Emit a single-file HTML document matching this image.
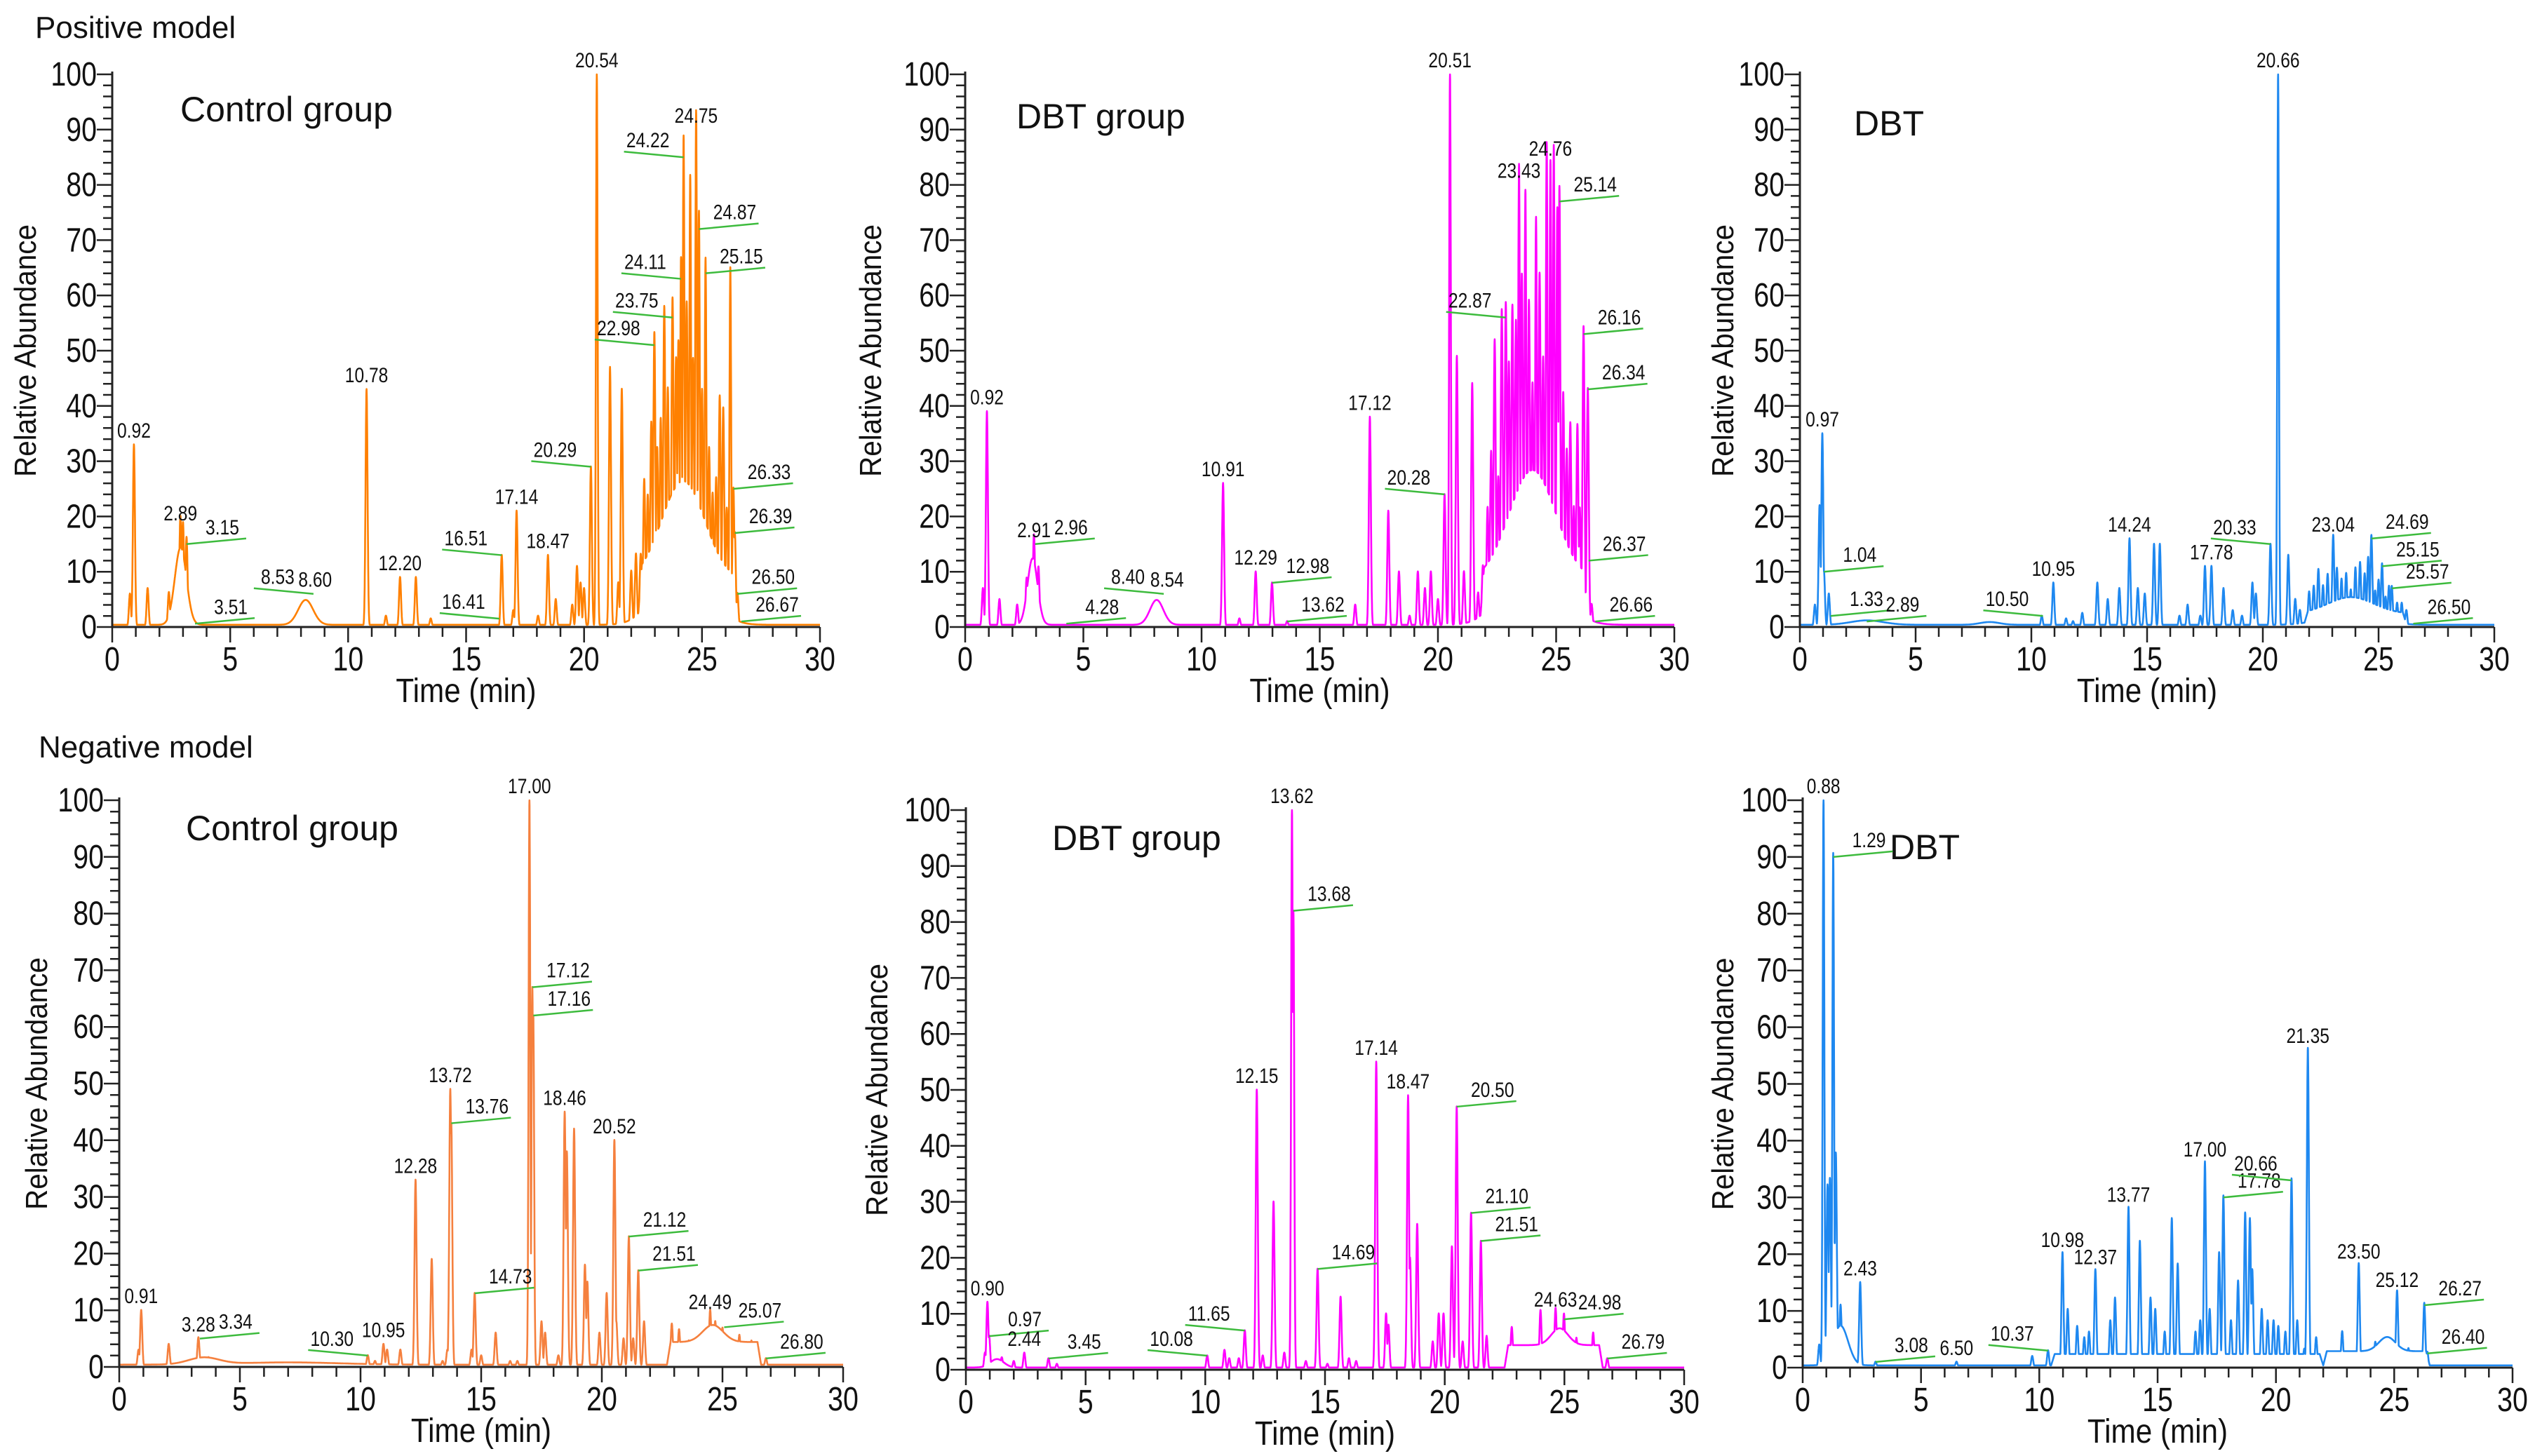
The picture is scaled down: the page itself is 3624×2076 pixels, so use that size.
<!DOCTYPE html>
<html><head><meta charset="utf-8"><title>Chromatograms</title>
<style>html,body{margin:0;padding:0;background:#fff}svg{display:block}text{font-family:"Liberation Sans",sans-serif;fill:#111}</style>
</head><body>
<svg id="fig" xmlns="http://www.w3.org/2000/svg" width="3624" height="2076" viewBox="0 0 3624 2076">
<rect x="0" y="0" width="3624" height="2076" fill="#fff"/>
<text x="50" y="54" font-size="44">Positive model</text>
<text x="55" y="1080" font-size="44">Negative model</text>
</svg>
<script>
// ---- data (time in min, relative abundance %) ----
const posControlPeaks=[[0.75,6],[0.92,33],[1.5,7],[2.4,6],[2.6,5],[2.89,18],[3.0,17],[3.15,15],[10.78,43],[11.6,2],[12.20,9],[12.87,9],[13.5,1.5],[16.51,13],[17.0,3],[17.14,21],[18.05,2],[18.47,13],[18.8,5],[19.5,4],[19.7,11],[19.85,8],[20.0,7],[20.29,29],[20.54,100],[21.1,47],[21.45,8],[21.6,43],[22.0,10],[22.2,13],[22.4,12],[22.55,25],[22.7,22],[22.85,35],[22.98,51],[23.1,30],[23.25,35],[23.4,55],[23.55,40],[23.75,56],[23.9,45],[24.0,48],[24.11,63],[24.22,85],[24.35,55],[24.5,78],[24.62,45],[24.75,90],[24.87,72],[25.0,40],[25.15,64],[25.3,30],[25.45,22],[25.6,25],[25.75,40],[25.9,38],[26.05,20],[26.2,64],[26.33,25],[26.39,17],[26.5,6]];
const posControlHumps=[[2.9,14,0.35],[8.2,4.5,0.45],[24.2,18,1.3]];
const posControlPlateaus=[[22.3,26.3,8]];
const posControlLabels=[[0.92,33,0],[2.89,18,0],[3.15,15,1],[3.51,0.6,1],[8.53,6,-1],[8.60,6,0],[10.78,43,0],[12.20,9,0],[16.41,1.5,-1],[16.51,13,-1],[17.14,21,0],[18.47,13,0],[20.29,29,-1],[20.54,100,0],[22.98,51,-1],[23.75,56,-1],[24.11,63,-1],[24.22,85,-1],[24.75,90,0],[24.87,72,1],[25.15,64,1],[26.33,25,1],[26.39,17,1],[26.50,6,1],[26.67,1,1]];

const posDbtGroupPeaks=[[0.75,7],[0.92,39],[1.45,5],[2.2,4],[2.6,8],[2.91,15],[3.1,10],[10.91,26],[11.6,1.5],[12.29,10],[12.98,8],[13.62,1],[16.5,4],[17.12,38],[17.9,21],[18.35,10],[18.8,2],[19.15,10],[19.45,7],[19.7,10],[20.0,5],[20.28,24],[20.51,100],[20.8,49],[21.1,10],[21.45,44],[21.7,6],[21.9,10],[22.1,20],[22.25,30],[22.4,50],[22.55,25],[22.7,55],[22.87,56],[23.0,45],[23.15,55],[23.3,52],[23.43,80],[23.55,60],[23.7,75],[23.85,55],[24.0,40],[24.15,70],[24.3,60],[24.45,45],[24.6,84],[24.76,81],[24.9,84],[25.05,73],[25.14,77],[25.3,40],[25.45,30],[25.6,35],[25.75,20],[25.9,35],[26.0,20],[26.16,53],[26.34,43],[26.37,12],[26.5,4]];
const posDbtGroupHumps=[[2.85,12,0.3],[8.1,4.5,0.4],[24.0,20,1.4]];
const posDbtGroupPlateaus=[[21.8,26.3,8]];
const posDbtGroupLabels=[[0.92,39,0],[2.91,15,0],[2.96,15,1],[4.28,0.6,1],[8.40,6,-1],[8.54,6,0],[10.91,26,0],[12.29,10,0],[12.98,8,1],[13.62,1,1],[17.12,38,0],[20.28,24,-1],[20.51,100,0],[22.87,56,-1],[23.43,80,0],[24.76,84,0],[25.14,77,1],[26.16,53,1],[26.34,43,1],[26.37,12,1],[26.66,1,1]];

const posDbtPeaks=[[0.65,4],[0.85,22],[0.97,35],[1.04,10],[1.25,6],[10.45,2],[10.95,8],[11.5,1.5],[11.8,1],[12.2,2.5],[12.85,8],[13.3,5],[13.8,7],[14.24,16],[14.6,7],[14.9,6],[15.3,15],[15.55,15],[16.4,2],[16.75,4],[17.3,2],[17.5,11],[17.78,11],[18.3,7],[18.7,3],[19.1,2],[19.55,8],[19.7,6],[20.33,15],[20.66,100],[21.1,13],[21.4,5],[21.6,3],[22.0,6],[22.2,7],[22.4,10],[22.6,7],[22.8,9],[23.04,16],[23.2,10],[23.4,8],[23.6,9],[23.8,6],[24.0,10],[24.2,11],[24.4,9],[24.55,12],[24.69,16],[24.85,6],[25.0,8],[25.15,11],[25.3,5],[25.45,7],[25.57,7],[25.8,4],[26.0,4],[26.2,3]];
const posDbtHumps=[[2.9,0.8,1.0],[8.2,0.5,0.6],[23.8,3,1.4]];
const posDbtPlateaus=[[21.8,26.2,2]];
const posDbtLabels=[[0.97,35,0],[1.04,10,1],[1.33,2,1],[2.89,1,1],[10.50,2,-1],[10.95,8,0],[14.24,16,0],[17.78,11,0],[20.33,15,-1],[20.66,100,0],[23.04,16,0],[24.69,16,1],[25.15,11,1],[25.57,7,1],[26.50,0.6,1]];

const negControlPeaks=[[0.8,3],[0.91,10],[2.05,4],[3.28,5],[3.7,1.5],[10.3,2],[10.6,1],[10.95,4],[11.1,3],[11.65,3],[12.28,33],[12.95,19],[13.4,1],[13.6,3],[13.72,49],[13.76,43],[14.6,3],[14.73,13],[15.0,2],[15.6,6],[16.2,1],[16.5,1],[17.00,100],[17.12,67],[17.16,62],[17.5,8],[17.65,6],[18.2,2],[18.46,45],[18.55,38],[18.85,42],[19.3,18],[19.4,15],[19.9,6],[20.2,13],[20.52,40],[20.6,8],[20.9,5],[21.12,23],[21.3,5],[21.51,17],[21.75,8],[22.9,7],[23.2,6],[23.6,4],[24.49,9],[24.7,7],[25.0,6],[25.3,4],[25.7,5],[26.2,4],[26.80,1.5]];
const negControlHumps=[[3.5,1.2,0.9],[7,0.4,3],[24.6,3,0.6]];
const negControlPlateaus=[[22.7,26.6,4]];
const negControlLabels=[[0.91,10,0],[3.28,5,0],[3.34,5,1],[10.30,2,-1],[10.95,4,0],[12.28,33,0],[13.72,49,0],[13.76,43,1],[14.73,13,1],[17.00,100,0],[17.12,67,1],[17.16,62,1],[18.46,45,0],[20.52,40,0],[21.12,23,1],[21.51,17,1],[24.49,9,0],[25.07,7,1],[26.80,1.5,1]];

const negDbtGroupPeaks=[[0.8,3],[0.90,12],[0.97,6],[1.5,2],[2.0,1.5],[2.44,3],[3.45,2],[3.8,1],[10.08,2.5],[10.8,3.5],[11.0,2],[11.4,2],[11.65,7],[12.15,50],[12.4,2.5],[12.85,30],[13.3,3],[13.62,100],[13.68,82],[14.2,1.5],[14.69,18],[15.1,1],[15.65,13],[16.0,2],[16.3,1.5],[17.14,55],[17.55,10],[17.65,8],[18.47,49],[18.55,20],[18.85,26],[19.5,5],[19.75,10],[19.95,10],[20.3,22],[20.50,47],[20.75,5],[21.10,28],[21.51,23],[21.75,6],[22.8,7],[24.0,10],[24.63,10],[24.98,9],[25.5,5],[26.2,6],[26.79,2]];
const negDbtGroupHumps=[[1.3,1.5,0.4],[24.8,3,0.5]];
const negDbtGroupPlateaus=[[22.5,26.6,4]];
const negDbtGroupLabels=[[0.90,12,0],[0.97,6,1],[2.44,3,0],[3.45,2,1],[10.08,2.5,-1],[11.65,7,-1],[12.15,50,0],[13.62,100,0],[13.68,82,1],[14.69,18,1],[17.14,55,0],[18.47,49,0],[20.50,47,1],[21.10,28,1],[21.51,23,1],[24.63,10,0],[24.98,9,1],[26.79,2,1]];

const negDbtPeaks=[[0.7,4],[0.88,100],[1.05,32],[1.15,33],[1.29,90],[1.4,37],[1.6,10],[2.43,15],[3.08,1],[6.5,1],[9.7,2],[10.37,3],[10.98,20],[11.2,10],[11.6,7],[11.9,5],[12.1,6],[12.37,17],[13.0,8],[13.2,12],[13.77,28],[14.25,22],[14.7,12],[14.9,10],[15.3,6],[15.6,26],[15.85,18],[16.6,6],[16.8,8],[17.00,36],[17.2,10],[17.6,20],[17.78,30],[18.1,8],[18.4,15],[18.7,27],[18.9,26],[19.0,17],[19.4,10],[19.65,8],[19.9,8],[20.1,7],[20.4,6],[20.66,33],[20.9,8],[21.2,3],[21.35,56],[21.7,5],[22.3,2],[22.8,6],[23.50,18],[24.2,4],[24.6,4],[25.12,13],[25.6,3],[26.27,11],[26.40,2.5]];
const negDbtHumps=[[1.6,7,0.45],[24.7,2.5,0.5]];
const negDbtPlateaus=[[10.5,22,2],[22,26.5,2.5]];
const negDbtLabels=[[0.88,100,0],[1.29,90,1],[2.43,15,0],[3.08,1,1],[6.50,1,0],[10.37,3,-1],[10.98,20,0],[12.37,17,0],[13.77,28,0],[17.00,36,0],[17.78,30,1],[20.66,33,-1],[21.35,56,0],[23.50,18,0],[25.12,13,0],[26.27,11,1],[26.40,2.5,1]];

const yTickValues=[0,10,20,30,40,50,60,70,80,90,100];
const xTickValues=[0,5,10,15,20,25,30];

const NS="http://www.w3.org/2000/svg";
const svg=document.getElementById('fig');
function mk(tag,attrs,parent){const e=document.createElementNS(NS,tag);for(const k in attrs)e.setAttribute(k,attrs[k]);(parent||svg).appendChild(e);return e;}
function ctext(parent,x,y,str,size,anchor,sx){const t=mk('text',{transform:'translate('+x+','+y+') scale('+(sx||0.82)+',1)','font-size':size,'text-anchor':anchor||'middle'},parent);t.textContent=str;return t;}

const panels=[
 {name:'positive-control',x0:160,x1:1169,y0:894,y100:106,color:'#FF8000',title:'Control group',tx:257,ty:173,ytx:36,peaks:posControlPeaks,humps:posControlHumps,plats:posControlPlateaus,labels:posControlLabels},
 {name:'positive-dbt-group',x0:1376,x1:2387,y0:894,y100:106,color:'#FF00FF',title:'DBT group',tx:1449,ty:183,ytx:1241,peaks:posDbtGroupPeaks,humps:posDbtGroupHumps,plats:posDbtGroupPlateaus,labels:posDbtGroupLabels},
 {name:'positive-dbt',x0:2566,x1:3556,y0:894,y100:106,color:'#1E88F0',title:'DBT',tx:2643,ty:193,ytx:2456,peaks:posDbtPeaks,humps:posDbtHumps,plats:posDbtPlateaus,labels:posDbtLabels},
 {name:'negative-control',x0:170,x1:1202,y0:1949,y100:1141,color:'#F5803E',title:'Control group',tx:265,ty:1198,ytx:52,peaks:negControlPeaks,humps:negControlHumps,plats:negControlPlateaus,labels:negControlLabels},
 {name:'negative-dbt-group',x0:1377,x1:2401,y0:1953,y100:1155,color:'#FF00FF',title:'DBT group',tx:1500,ty:1212,ytx:1250,peaks:negDbtGroupPeaks,humps:negDbtGroupHumps,plats:negDbtGroupPlateaus,labels:negDbtGroupLabels},
 {name:'negative-dbt',x0:2570,x1:3582,y0:1950,y100:1141,color:'#1E88F0',title:'DBT',tx:2694,ty:1225,ytx:2456,peaks:negDbtPeaks,humps:negDbtHumps,plats:negDbtPlateaus,labels:negDbtLabels}
];

panels.forEach(p=>{
 const g=mk('g',{});
 
 
 const X=t=>p.x0+(p.x1-p.x0)*t/30;
 const Y=v=>p.y0-(p.y0-p.y100)*v/100;
 const pts=[];
 for(let i=0;i<=6000;i++){
  const t=i*0.005;
  let base=0.4;
  p.plats.forEach(q=>{if(t>=q[0]&&t<=q[1]){const e=Math.min(t-q[0],q[1]-t);base=Math.max(base,0.4+q[2]*Math.min(1,e/0.15));}});
  p.humps.forEach(h=>{base+=h[1]*Math.exp(-Math.pow((t-h[0])/h[2],2));});
  let v=base;
  p.peaks.forEach(k=>{const w=k[1]>60?0.05:0.06;const d=(t-k[0])/w;if(Math.abs(d)<5){v=Math.max(v,k[1]*Math.exp(-d*d)+base*0.15);}});
  v=Math.min(v,100);
  pts.push(X(t).toFixed(1)+','+Y(v).toFixed(1));
 }
 const line=mk('polyline',{points:pts.join(' '),fill:'none',stroke:p.color,'stroke-width':2.6,'stroke-linejoin':'round'},g);
 
 
 const ax=mk('path',{d:'M'+p.x0+','+(p.y100-4)+' L'+p.x0+','+p.y0+' L'+p.x1+','+p.y0,fill:'none',stroke:'#222','stroke-width':3},g);
 
 
 let tk='';
 for(let v=0;v<=100;v+=2){const L=(v%10===0)?22:13;tk+='M'+(p.x0-L)+','+Y(v).toFixed(1)+' H'+p.x0+' ';}
 for(let t=0;t<=30;t++){const L=(t%5===0)?22:14;tk+='M'+X(t).toFixed(1)+','+p.y0+' V'+(p.y0+L)+' ';}
 const ticks=mk('path',{d:tk,stroke:'#222','stroke-width':2.5,fill:'none'},g);
 
 
 yTickValues.forEach(v=>{const t=ctext(g,p.x0-22,Y(v)+16,String(v),48,'end');
  
  });
 xTickValues.forEach(v=>{const t=ctext(g,X(v),p.y0+62,String(v),48,'middle');
  
  });
 const xt=ctext(g,(p.x0+p.x1)/2,p.y0+107,'Time (min)',48,'middle',0.88);
 
 
 const yc=(p.y0+p.y100)/2;
 const yt=mk('text',{transform:'translate('+(p.ytx+15)+','+yc+') rotate(-90) scale(0.92,1)','font-size':44,'text-anchor':'middle'},g);
 yt.textContent='Relative Abundance';
 
 
 const ti=mk('text',{x:p.tx,y:p.ty,'font-size':50},g);
 ti.textContent=p.title;
 
 
 p.labels.forEach(l=>{
  const px=X(l[0]),py=Y(l[1]);
  let tx=px,ty=py-10;
  if(l[2]!==0){
   const L=85;const ex=px+l[2]*L,ey=py-8;
   const ld=mk('line',{x1:px,y1:py,x2:ex,y2:ey,stroke:'#3DBB3D','stroke-width':2.5},g);
   
   
   tx=px+l[2]*L*0.6;ty=ey-6;
  }
  const t=ctext(g,tx,ty,l[0].toFixed(2),30,'middle');
  
  
 });
});
</script>
</body></html>
